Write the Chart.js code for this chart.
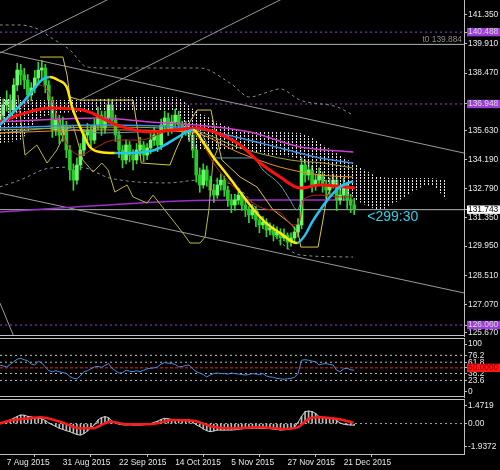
<!DOCTYPE html>
<html>
<head>
<meta charset="utf-8">
<script src="https://cdn.jsdelivr.net/npm/chart.js@4.4.1/dist/chart.umd.min.js"></script>
<style>
  html, body { margin: 0; padding: 0; background: #000; }
  body { width: 500px; height: 470px; position: relative; overflow: hidden; }
  canvas { position: absolute; left: 0; }
</style>
</head>
<body>
<canvas id="main" width="500" height="337" style="top:0px"></canvas>
<canvas id="rsi" width="500" height="60" style="top:338px"></canvas>
<canvas id="macd" width="500" height="71" style="top:399px"></canvas>
<script>
// daily candles, 5 Aug .. 23 Dec 2015
const opens = [
  136.10,136.40,136.90,137.14,136.65,137.88,138.62,138.38,138.13,137.39,
  137.74,138.23,138.62,138.72,137.88,137.14,135.67,136.16,135.42,135.91,
  134.68,133.70,133.20,133.94,134.68,135.42,135.67,135.17,135.91,136.40,
  135.76,136.26,136.90,136.16,135.42,134.68,134.19,134.93,134.43,134.19,
  134.68,134.93,134.43,134.78,135.17,135.42,134.93,135.91,136.26,135.76,
  136.06,136.40,135.91,135.67,135.76,135.42,134.68,133.45,132.96,133.70,
  133.20,132.71,132.46,132.96,133.20,132.71,132.22,131.97,132.22,132.46,
  131.97,131.73,131.48,131.73,131.23,130.99,131.13,130.74,130.84,130.49,
  130.64,130.35,130.49,130.15,130.35,130.64,130.99,133.94,133.45,133.70,
  132.96,133.20,133.45,132.96,132.71,132.96,133.20,132.22,132.46,132.96,
  132.22,131.97];
const highs = [
  136.70,137.20,137.60,137.40,138.20,138.95,138.90,138.70,138.40,138.00,
  138.60,139.00,139.10,138.90,138.10,137.30,136.60,136.40,136.30,136.10,
  134.90,134.00,134.30,135.00,135.70,136.00,135.90,136.20,136.80,136.60,
  136.60,137.20,137.10,136.40,135.60,134.90,135.20,135.10,134.70,135.00,
  135.30,135.10,135.00,135.50,135.80,135.60,136.20,136.60,136.50,136.40,
  136.70,136.60,136.10,136.10,136.00,135.60,134.90,133.80,134.00,133.90,
  133.40,133.00,133.30,133.50,133.40,132.90,132.50,132.50,132.80,132.60,
  132.20,131.90,132.00,131.90,131.40,131.40,131.30,131.10,131.00,130.90,
  130.80,130.80,130.60,130.60,130.90,131.30,134.30,134.20,134.10,133.90,
  133.50,133.80,133.60,133.20,133.30,133.50,133.40,132.80,133.30,133.10,
  132.50,132.30];
const lows = [
  135.80,136.20,136.60,136.30,136.50,137.60,137.90,137.70,137.00,137.10,
  137.50,138.00,138.20,137.50,136.70,135.30,135.40,135.00,135.10,134.30,
  133.20,132.70,133.00,133.70,134.40,135.10,134.80,135.00,135.70,135.40,
  135.50,136.00,135.90,135.10,134.30,133.80,134.00,134.10,133.70,134.00,
  134.40,134.10,134.20,134.50,134.90,134.60,134.70,135.60,135.40,135.50,
  135.80,135.60,135.30,135.40,135.10,134.30,133.10,132.60,132.80,132.90,
  132.40,132.10,132.30,132.70,132.40,131.90,131.60,131.70,132.00,131.70,
  131.40,131.10,131.30,130.90,130.60,130.80,130.40,130.50,130.20,130.30,
  130.00,130.20,129.80,129.95,130.10,130.40,130.80,133.10,133.20,132.60,
  132.70,133.00,132.60,132.30,132.50,132.80,131.70,132.00,132.20,131.80,
  131.60,131.50];
const closes = [
  136.40,136.90,137.14,136.65,137.88,138.62,138.38,138.13,137.39,137.74,
  138.23,138.62,138.72,137.88,137.14,135.67,136.16,135.42,135.91,134.68,
  133.70,133.20,133.94,134.68,135.42,135.67,135.17,135.91,136.40,135.76,
  136.26,136.90,136.16,135.42,134.68,134.19,134.93,134.43,134.19,134.68,
  134.93,134.43,134.78,135.17,135.42,134.93,135.91,136.26,135.76,136.06,
  136.40,135.91,135.67,135.76,135.42,134.68,133.45,132.96,133.70,133.20,
  132.71,132.46,132.96,133.20,132.71,132.22,131.97,132.22,132.46,131.97,
  131.73,131.48,131.73,131.23,130.99,131.13,130.74,130.84,130.49,130.64,
  130.35,130.49,130.15,130.35,130.64,130.99,133.94,133.45,133.70,132.96,
  133.20,133.45,132.96,132.71,132.96,133.20,132.22,132.46,132.96,132.22,
  131.97,131.74];

// indicator lines (bar index, price)
const hmaIdx = [0,3,6,9.5,12,14.3,16.6,19.2,20.6,22.9,25.7,28.6,32.8,37.1,41.4,44.2,47.1,50.8,55.1,58.5,60.8,64.2,67,71.3,75.6,79.9,84.7,87,89,91.3,94.1,96.9,100.7];
const hmaVal = [135.91,136.40,136.90,137.64,138.13,138.28,138.13,137.74,136.80,135.81,134.83,134.58,134.53,134.53,134.58,134.68,134.93,135.32,135.67,134.93,134.34,133.60,132.96,131.97,131.13,130.59,130.10,130.49,131.13,131.73,132.37,132.86,133.15];
const emaRedIdx = [0,7.2,14.3,23.7,33.4,42.8,49.9,56.2,61.9,68.5,74.2,79.9,85.6,91.3,101.2];
const emaRedVal = [136.06,136.50,136.75,136.65,135.91,135.57,135.67,135.76,135.52,134.93,134.04,133.35,132.81,132.96,132.81];
const maMagIdx = [0,28.6,42.8,56.2,71.3,85.6,100.7];
const maMagVal = [136.06,136.26,136.06,135.91,135.57,134.83,134.58];
const maBlueIdx = [0,28.6,54.2,68.5,79.9,91.3,100.7];
const maBlueVal = [135.76,135.91,135.76,135.27,134.78,134.29,134.04];
const maOliveIdx = [0,28.6,54.2,68.5,82.7,92.1,100.7];
const maOliveVal = [135.67,135.81,135.67,134.78,134.19,134.04,133.79];
const maOrangeIdx = [0,28.6,54.2,68.5,79.9,91.3,100.7];
const maOrangeVal = [135.52,135.67,135.57,134.53,133.84,133.45,133.35];
const maTealIdx = [0,17.2,28.6,56.2,61.9,72.2,75,79.9,82.7,84.7,86.1];
const maTealVal = [135.52,135.76,135.52,135.67,134.29,134.29,133.70,132.96,132.22,131.73,132.22];
const maThinRedIdx = [0,5.8,11.5,14.3,18.6,22.9,27.1,32.8,40,47.1,52.8,57.1,61.3,68.5,74.2,79.9,83.6,85.6,86.4,91.3,96.9,100.7];
const maThinRedVal = [135.91,136.65,137.88,137.39,135.17,134.43,134.78,135.17,135.17,135.57,135.76,135.17,133.94,132.56,131.87,131.58,130.99,131.23,132.22,132.46,132.37,132.37];
const bandIdx = [11.5,18,19.2,20,22.9,38,39.1,40.3,48.5,50.2,52.8,56.2,60.2,61.3,63.3,68.5,73.3,77.9,82.7,85,85.8,90.7,92.1,93.2,94.7];
const bandVal = [139.26,139.26,138.38,137.29,137.14,137.14,135.91,134.04,133.94,134.68,135.67,136.65,136.65,135.67,134.19,133.35,132.86,131.73,131.08,130.64,129.90,129.90,131.23,132.37,132.96];
const oscIdx = [5.2,7.2,10.6,13.5,16.3,19.2,20.9,23.7,26.6,29.1,30.9,32.8,36.3,38,42,43.7,47.7,52.2,54.2,57.1,58.5,59.6,60.8,62.2];
const oscVal = [137.39,134.43,134.93,134.04,134.68,135.76,135.91,134.19,133.60,134.04,133.70,132.61,132.96,132.37,132.07,132.46,131.58,130.59,130.10,130.10,130.40,131.73,134.19,134.78];
const envUpIdx = [0,5.8,11.5,14.3,20,24.9,31.4,57.1,65.6,71.3,75.6,79.9,85.6,96.1,100.7];
const envUpVal = [140.84,140.84,140.59,140.25,139.61,138.77,138.72,138.72,137.98,137.29,137.49,137.69,137.14,136.80,136.40];
const envLoIdx = [0,5.8,14.3,22.9,31.4,47.7,57.1,66.5,71.3,77,82.7,85.6,100.7];
const envLoVal = [132.86,133.20,133.79,133.84,133.30,133.06,133.20,132.96,132.22,130.74,129.75,129.51,129.41];
const ma200Idx = [0,25.7,51.4,71.3,100.7];
const ma200Val = [131.63,131.92,132.17,132.22,132.22];
const cloudIdx = [0,5.8,11.5,22.9,37.1,49.9,55.6,68.5,77,85.6,91.3,96.9,104.1,108.3,114,122.6,126.9];
const spanA = [137.29,137.14,137.14,137.14,137.29,137.29,136.65,135.67,135.57,135.52,135.03,134.43,133.70,133.35,133.30,133.30,133.20];
const spanB = [135.03,135.17,136.26,136.55,136.65,136.65,134.68,134.68,134.43,134.19,133.30,132.71,131.97,131.73,132.22,132.96,132.32];

const trendX1 = [0.09, 0.09, 22.9, 0.09, 0.09];
const trendY1 = [139.46, 139.51, 137.14, 132.56, 127.14];
const trendX2 = [40, 132.28, 88.4, 132.28, 5.5];
const trendY2 = [142.88, 134.53, 142.81, 127.64, 124.88];
const levelPrices = [140.488, 139.884, 136.948, 131.743, 126.060];

const priceTicks = [141.35, 139.91, 138.47, 135.63, 134.19, 132.79, 131.35, 129.95, 128.51, 127.07, 125.67];
const priceTickLabels = ['141.350','139.910','138.470','135.630','134.190','132.790','131.350','129.950','128.510','127.070','125.670'];
const markerPrices = [140.488, 136.948, 131.743, 126.060];
const markerLabels = ['140.488','136.948','131.743','126.060'];
const lineTag = 't0 139.884';
const tagPrice = 139.884;
const timerText = '<299:30';

const rsiVals = [
  56,54,52,57,63,68,70,67,65,58, 56,64,60,52,44,42,44,42,40,38,
  32,28,27,33,42,44,48,52,53,51, 55,59,49,44,39,40,45,43,42,44,
  42,45,48,49,50,52,58,61,60,59, 57,52,53,55,56,48,42,39,36,31,
  35,38,39,38,38,37,39,38,37,36, 35,36,38,37,36,38,33,31,30,28,
  27,26,27,28,30,38,66,67,66,64, 63,56,58,59,57,56,45,42,48,49,
  46,45];
const rsiTicks = [100, 76.2, 61.8, 38.2, 23.6, 0, 50];
const rsiTickLabels = ['100','76.2','61.8','38.2','23.6','0','50.0000'];
const rsiDotted = [76.2, 61.8, 38.2, 23.6];
const rsiMid = 50;

const macdVals = [
  0.00,0.10,0.20,0.30,0.45,0.60,0.72,0.70,0.60,0.55, 0.50,0.45,0.40,0.25,0.05,-0.10,-0.25,-0.39,-0.50,-0.60,
  -0.68,-0.80,-0.92,-0.96,-0.85,-0.62,-0.35,-0.10,0.30,0.50, 0.58,0.50,0.20,0.05,-0.05,-0.10,-0.12,-0.10,-0.12,-0.12,
  -0.12,-0.10,-0.05,0.00,0.10,0.20,0.35,0.44,0.40,0.35, 0.30,0.30,0.32,0.30,0.30,0.10,-0.10,-0.26,-0.45,-0.60,
  -0.68,-0.62,-0.55,-0.54,-0.55,-0.54,-0.54,-0.52,-0.48,-0.44, -0.40,-0.39,-0.40,-0.38,-0.39,-0.40,-0.39,-0.42,-0.46,-0.50,
  -0.54,-0.52,-0.50,-0.42,-0.30,0.10,0.60,1.00,1.05,1.00, 0.85,0.58,0.52,0.48,0.45,0.44,0.25,0.05,-0.05,-0.10,
  -0.12,-0.14];
const signalIdx = [0,3.8,8.6,11.5,17.2,22.9,26.6,31.4,36.3,42.8,49.4,55.1,60.8,66.5,74.2,80.7,84.7,88.4,91.3,97.8,100.7];
const signalVal = [0,0.30,0.45,0.53,0.16,-0.39,-0.39,0.16,-0.06,-0.06,0.30,0.24,-0.26,-0.39,-0.31,-0.45,-0.34,0.44,0.53,0.30,0.08];
const macdTicks = [1.4719, 0, -1.9372];
const macdTickLabels = ['1.4719', '0.00', '-1.9372'];

const dateIdx = [2, 18, 34, 50, 66, 82, 98];
const dateLabels = ['7 Aug 2015','31 Aug 2015','22 Sep 2015','14 Oct 2015','5 Nov 2015','27 Nov 2015','21 Dec 2015'];

// ---- drawing ----
Chart.defaults.font.family = "'Liberation Sans', Arial, sans-serif";
Chart.defaults.font.size = 8.4;
Chart.defaults.color = '#e8e8e8';

const X_MIN = 0.09, X_MAX = 132.28;
const AXIS = '#c0c0c0';
const PURPLE = '#9b3fd6';
const bars = opens.map((_, i) => i);

function pts(xs, ys) { return xs.map((x, k) => ({ x: x, y: ys[k] })); }

function line(data, color, width, order, extra) {
  return Object.assign({
    type: 'line', data: data, borderColor: color, borderWidth: width,
    pointRadius: 0, pointHoverRadius: 0, fill: false, order: order,
    cubicInterpolationMode: 'monotone'
  }, extra || {});
}
function straight(data, color, width, order, dash) {
  return line(data, color, width, order, { cubicInterpolationMode: 'default', tension: 0, borderDash: dash || [] });
}

function xAxis(show) {
  return { type: 'linear', min: X_MIN, max: X_MAX, offset: false, display: show };
}

function yAxis(min, max, vals, labels, special) {
  return {
    position: 'right', min: min, max: max,
    afterBuildTicks: a => { a.ticks = vals.map(v => ({ value: v })); },
    afterFit: s => { s.width = 36; s.paddingTop = 0; s.paddingBottom = 0; },
    grid: { drawOnChartArea: false, drawTicks: true, tickLength: 3, tickColor: AXIS },
    border: { display: true, color: AXIS },
    ticks: {
      autoSkip: false, padding: 1,
      font: { size: 8.4, lineHeight: 1 },
      callback: (v, i) => labels[i],
      color: c => special(c.index) ? special(c.index).text : '#e8e8e8',
      showLabelBackdrop: c => !!special(c.index),
      backdropColor: c => special(c.index) ? special(c.index).fill : 'rgba(0,0,0,0)',
      backdropPadding: { top: 0, bottom: 0, left: 1, right: 6 }
    }
  };
}

const frame = {
  id: 'frame',
  afterDraw(chart, args, o) {
    const { ctx, chartArea: a } = chart;
    ctx.save();
    ctx.strokeStyle = AXIS;
    ctx.lineWidth = 1;
    ctx.beginPath();
    if (o.top) { ctx.moveTo(a.left, a.top + 0.5); ctx.lineTo(a.right, a.top + 0.5); }
    if (o.bottom) { ctx.moveTo(a.left, a.bottom - 0.5); ctx.lineTo(a.right, a.bottom - 0.5); }
    ctx.stroke();
    ctx.restore();
  }
};

const tags = {
  id: 'tags',
  afterDatasetsDraw(chart) {
    const { ctx, chartArea: a, scales: { x, y } } = chart;
    ctx.save();
    ctx.font = "8.4px 'Liberation Sans'";
    ctx.fillStyle = '#8c8c8c';
    ctx.textAlign = 'right';
    ctx.textBaseline = 'bottom';
    ctx.fillText(lineTag, a.right - 2, y.getPixelForValue(tagPrice) - 1);
    const last = closes.length - 1;
    ctx.font = "14px 'Liberation Sans'";
    ctx.fillStyle = '#34cde4';
    ctx.textAlign = 'left';
    ctx.textBaseline = 'top';
    ctx.fillText(timerText, x.getPixelForValue(last) + 13, y.getPixelForValue(closes[last]));
    ctx.restore();
  }
};

const mainCtx = document.getElementById('main').getContext('2d');
function dots(color) {
  const c = document.createElement('canvas');
  c.width = 4; c.height = 3;
  const g = c.getContext('2d');
  g.fillStyle = color;
  g.fillRect(0, 0, 1, 2);
  return mainCtx.createPattern(c, 'repeat');
}

const cyan = '#22c4f2', yellow = '#ffe800';
const markerStyle = [
  { fill: PURPLE, text: '#dcdcdc' },
  { fill: PURPLE, text: '#dcdcdc' },
  { fill: '#ffffff', text: '#000000' },
  { fill: PURPLE, text: '#dcdcdc' }
];
const levelStyle = [
  { color: PURPLE, dash: [2, 3] },
  { color: '#b4b4b4', dash: [] },
  { color: PURPLE, dash: [2, 3] },
  { color: '#b4b4b4', dash: [] },
  { color: PURPLE, dash: [2, 3] }
];

const mainSets = [
  line(pts(hmaIdx, hmaVal), yellow, 2.5, 1, {
    segment: { borderColor: c => c.p1.parsed.y >= c.p0.parsed.y ? cyan : yellow }
  }),
  line(pts(emaRedIdx, emaRedVal), '#ff1010', 3, 2),
  line(pts(maMagIdx, maMagVal), '#d23cd2', 1.5, 3),
  line(pts(maBlueIdx, maBlueVal), '#3d8fe8', 1.5, 3),
  line(pts(maOliveIdx, maOliveVal), '#9aa83a', 1, 3),
  line(pts(maOrangeIdx, maOrangeVal), '#f08a1c', 1, 3),
  line(pts(maTealIdx, maTealVal), '#5fa3a8', 1, 3),
  line(pts(maThinRedIdx, maThinRedVal), '#c0231e', 1, 3),
  straight(pts(bandIdx, bandVal), '#d6c83e', 1, 3),
  line(pts(oscIdx, oscVal), '#b8b83a', 1, 3, { cubicInterpolationMode: 'default', tension: 0 }),
  line(pts(cloudIdx, spanA), 'rgba(0,0,0,0)', 0, 4, {
    fill: { target: '+1', above: dots('#ece6e6'), below: dots('#eaa4a4') }
  }),
  line(pts(cloudIdx, spanB), 'rgba(0,0,0,0)', 0, 4),
  {
    type: 'bar', order: 6, grouped: false, barThickness: 3,
    data: bars.map(i => ({ x: i, y: [opens[i], closes[i]] })),
    backgroundColor: bars.map(i => closes[i] >= opens[i] ? '#66fb66' : '#2cc82c')
  },
  {
    type: 'bar', order: 7, grouped: false, barThickness: 1,
    data: bars.map(i => ({ x: i, y: [lows[i], highs[i]] })),
    backgroundColor: '#38d238'
  },
  line(pts(envUpIdx, envUpVal), '#8a8a8a', 1, 8, { borderDash: [3, 3] }),
  line(pts(envLoIdx, envLoVal), '#8a8a8a', 1, 8, { borderDash: [3, 3] }),
  line(pts(ma200Idx, ma200Val), '#9a30c8', 1.5, 8)
];
trendX1.forEach((x, k) => {
  mainSets.push(straight([{ x: x, y: trendY1[k] }, { x: trendX2[k], y: trendY2[k] }], '#9a9a9a', 1, 9));
});
levelPrices.forEach((p, k) => {
  mainSets.push(straight([{ x: X_MIN, y: p }, { x: X_MAX, y: p }], levelStyle[k].color, 1, 9, levelStyle[k].dash));
});

const base = {
  responsive: false, animation: false, events: [],
  plugins: { legend: { display: false }, tooltip: { enabled: false } }
};

new Chart(mainCtx, {
  type: 'bar',
  data: { datasets: mainSets },
  options: Object.assign({}, base, {
    layout: { padding: { top: 0, left: 0, right: 0, bottom: 1 } },
    plugins: Object.assign({}, base.plugins, { frame: { bottom: true } }),
    scales: {
      x: xAxis(false),
      y: yAxis(125.52, 142.07, priceTicks.concat(markerPrices), priceTickLabels.concat(markerLabels),
        i => i >= priceTicks.length ? markerStyle[i - priceTicks.length] : null)
    }
  }),
  plugins: [frame, tags]
});

const rsiSets = [line(bars.map(i => ({ x: i, y: rsiVals[i] })), '#4a8ee0', 1, 1, { cubicInterpolationMode: 'default', tension: 0 })];
rsiDotted.forEach(v => rsiSets.push(straight([{ x: X_MIN, y: v }, { x: X_MAX, y: v }], '#bdbdbd', 1, 5, [2, 3])));
rsiSets.push(straight([{ x: X_MIN, y: rsiMid }, { x: X_MAX, y: rsiMid }], '#ff1a1a', 1, 4, [3, 2]));

new Chart(document.getElementById('rsi'), {
  type: 'line',
  data: { datasets: rsiSets },
  options: Object.assign({}, base, {
    layout: { padding: { top: 0, left: 0, right: 0, bottom: 1 } },
    plugins: Object.assign({}, base.plugins, { frame: { top: true, bottom: true } }),
    scales: {
      x: xAxis(false),
      y: yAxis(-11.11, 112.58, rsiTicks, rsiTickLabels,
        i => i === rsiTicks.length - 1 ? { fill: '#ff1414', text: '#8a0000' } : null)
    }
  }),
  plugins: [frame]
});

const macdX = xAxis(true);
Object.assign(macdX, {
  position: 'bottom',
  afterBuildTicks: a => { a.ticks = dateIdx.map(v => ({ value: v })); },
  afterFit: s => { s.height = 16; s.paddingLeft = 0; s.paddingRight = 0; },
  grid: { drawOnChartArea: false, drawTicks: true, tickLength: 3, tickColor: AXIS },
  border: { display: true, color: AXIS },
  ticks: {
    autoSkip: false, maxRotation: 0, align: 'start', padding: 1,
    font: { size: 8.4, lineHeight: 1 },
    callback: (v, i) => dateLabels[i]
  }
});

new Chart(document.getElementById('macd'), {
  type: 'bar',
  data: {
    datasets: [
      line(pts(signalIdx, signalVal), '#ff1a1a', 2.5, 1),
      straight(bars.map(i => ({ x: i, y: macdVals[i] })), '#cfcfcf', 1, 2),
      {
        type: 'bar', order: 3, grouped: false, barThickness: 1,
        data: bars.map(i => ({ x: i, y: macdVals[i] })),
        backgroundColor: '#bdbdbd'
      },
      straight([{ x: X_MIN, y: 0 }, { x: X_MAX, y: 0 }], '#a8a8a8', 1, 4, [2, 3])
    ]
  },
  options: Object.assign({}, base, {
    layout: { padding: 0 },
    plugins: Object.assign({}, base.plugins, { frame: { top: true } }),
    scales: {
      x: macdX,
      y: yAxis(-2.549, 2.058, macdTicks, macdTickLabels, () => null)
    }
  }),
  plugins: [frame]
});
</script>
</body>
</html>
